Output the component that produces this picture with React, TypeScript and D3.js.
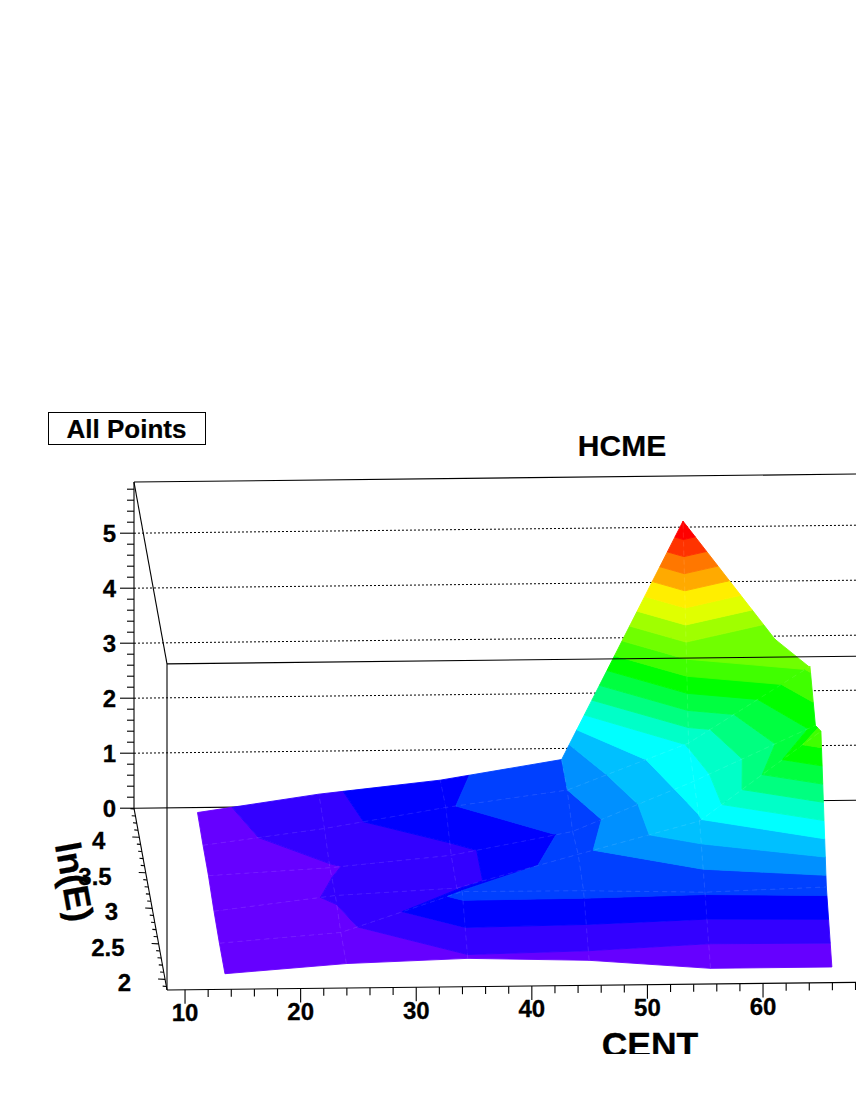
import React from "react";
import * as d3 from "d3";

// ---- data ----
const CENT = [13.7, 24.2, 34.7, 45.2, 55.7, 66.2];
const LN_E = [2.07, 2.5, 2.92, 3.35, 3.77, 4.2];
const Z_R0 = [0, 0.16, 0.23, 0.17, 0, 0];
const Z_R1 = [0, 0.17, 0.89, 0.88, 0.83, 0.9];
const Z_R2 = [0.04, 0.3, 0.41, 1.0, 1.58, 3.19];
const Z_R3 = [0.13, 0.25, 0.45, 0.86, 1.75, 2.74];
const Z_R4 = [0.14, 0.42, 0.78, 1.07, 1.9, 3.27];
const Z_R5 = [0.18, 0.49, 0.72, 1.07, 5.38, 2.52];
const Z_ROWS = [Z_R0, Z_R1, Z_R2, Z_R3, Z_R4, Z_R5];
const PALETTE = [
  "#6600ff", "#3300ff", "#0000ff", "#0040ff", "#0090ff",
  "#00c0ff", "#00ffff", "#00ffc8", "#00ff80", "#00ff40",
  "#00ff00", "#40ff00", "#70ff00", "#a0ff00", "#e0ff00",
  "#ffee00", "#ffaa00", "#ff7700", "#ff3300", "#ff0000",
];
const LEVEL_STEP = 0.268;
const Z_TICKS = [0, 1, 2, 3, 4, 5];
const CENT_TICKS = [10, 20, 30, 40, 50, 60];
const LNE_TICKS = [2, 2.5, 3, 3.5, 4];
const LNE_LABELS = ["2", "2.5", "3", "3.5", "4"];

// ---- projection of the ROOT-style oblique 3D view ----
const C0 = 8.44, C1 = 72, L0 = 1.85, L1 = 4.41, Z_TOP = 5.93;
const xOfCent = d3.scaleLinear().domain([C0, C1]).range([0, (C1 - C0) * 11.56]);
const yOfCent = d3.scaleLinear().domain([C0, C1]).range([0, -(C1 - C0) * 0.128]);
const xOfLn = d3.scaleLinear().domain([L0, L1]).range([0, -33]);
const yOfLn = d3.scaleLinear().domain([L0, L1]).range([0, -181.8]);
const yOfZ = d3.scaleLinear().domain([0, 1]).range([0, -55]);
type V = [number, number, number];
const project = (c: number, l: number, z: number): [number, number] => [
  167 + xOfCent(c) + xOfLn(l),
  990 + yOfCent(c) + yOfLn(l) + yOfZ(z),
];
const P = (p: [number, number]) => `${p[0].toFixed(2)},${p[1].toFixed(2)}`;

// Clip a closed polygon against a height level, walking the outline as the original does
function clip(poly: V[], level: number, keepAbove: boolean): V[] {
  const out: V[] = [];
  const inside = (v: V) => (keepAbove ? v[2] >= level : v[2] <= level);
  poly.forEach((a, i) => {
    const b = poly[(i + 1) % poly.length];
    const ia = inside(a), ib = inside(b);
    if (ia) out.push(a);
    if (ia !== ib) {
      const t = (level - a[2]) / (b[2] - a[2]);
      out.push([a[0] + t * (b[0] - a[0]), a[1] + t * (b[1] - a[1]), level]);
    }
  });
  return out;
}

function surfaceBands() {
  const res: { pts: string; fill: string }[] = [];
  for (let r = LN_E.length - 2; r >= 0; r--) {
    for (let c = 0; c < CENT.length - 1; c++) {
      const quad: V[] = [
        [CENT[c], LN_E[r], Z_ROWS[r][c]],
        [CENT[c + 1], LN_E[r], Z_ROWS[r][c + 1]],
        [CENT[c + 1], LN_E[r + 1], Z_ROWS[r + 1][c + 1]],
        [CENT[c], LN_E[r + 1], Z_ROWS[r + 1][c]],
      ];
      PALETTE.forEach((fill, k) => {
        let poly = quad;
        if (k > 0) poly = clip(poly, k * LEVEL_STEP, true);
        if (k < PALETTE.length - 1 && poly.length) poly = clip(poly, (k + 1) * LEVEL_STEP, false);
        if (poly.length > 2) res.push({ pts: poly.map((v) => P(project(v[0], v[1], v[2]))).join(" "), fill });
      });
    }
  }
  return res;
}

const FONT = "'Liberation Sans', Arial, Helvetica, sans-serif";
const Line = ({ a, b, w = 1.1, dash }: { a: [number, number]; b: [number, number]; w?: number; dash?: string }) => (
  <line x1={a[0]} y1={a[1]} x2={b[0]} y2={b[1]} stroke="#000" strokeWidth={w} strokeDasharray={dash} />
);

export default function App() {
  const zMinor = d3.range(0, 5.81, 0.2);
  const centMinor = d3.range(10, 72.01, 2);
  const lnMinor = d3.range(1.9, 4.41, 0.1);
  const isMajor = (v: number, list: number[]) => list.some((t) => Math.abs(t - v) < 1e-6);
  const bands = surfaceBands();
  const rowLine = d3.line();
  return (
    <svg width={856} height={1107} viewBox="0 0 856 1107"
      style={{ position: "absolute", left: 0, top: 0, display: "block", background: "#fff" }} fontFamily={FONT} fontWeight="bold">
      <defs>
        <clipPath id="axisTitleClip"><rect x={0} y={0} width={856} height={1054} /></clipPath>
      </defs>

      {/* back wall grid */}
      {Z_TICKS.filter((z) => z > 0).map((z) => (
        <Line key={z} a={project(C0, L1, z)} b={project(C1, L1, z)} dash="2 2" w={1} />
      ))}
      <Line a={project(C0, L1, 0)} b={project(C1, L1, 0)} />
      <Line a={project(C0, L1, Z_TOP)} b={project(C1, L1, Z_TOP)} />
      <Line a={project(C0, L1, 0)} b={project(C0, L1, Z_TOP)} />
      <Line a={project(C0, L1, Z_TOP)} b={project(C0, L0, Z_TOP)} />
      <Line a={project(C0, L0, 0)} b={project(C0, L0, Z_TOP)} />
      <Line a={project(C0, L1, 0)} b={project(C0, L0, 0)} />
      <Line a={project(C0, L0, 0)} b={project(C1, L0, 0)} />

      {/* surface */}
      <g>
        {bands.map((b, i) => (
          <polygon key={i} points={b.pts} fill={b.fill} stroke={b.fill} strokeWidth={0.9} strokeLinejoin="round" />
        ))}
      </g>
      {/* faint mesh seams of the surface, only on the interior grid lines */}
      <g fill="none" stroke="#fff" strokeOpacity={0.13} strokeWidth={0.8} strokeDasharray="5 4">
        {LN_E.slice(1, -1).map((l, i) => (
          <path key={l} d={rowLine(CENT.map((c, j) => project(c, l, Z_ROWS[i + 1][j]))) ?? ""} />
        ))}
        {CENT.slice(1, -1).map((c, j) => (
          <path key={c} d={rowLine(LN_E.map((l, i) => project(c, l, Z_ROWS[i][j + 1]))) ?? ""} />
        ))}
      </g>

      {/* front top edge runs over the surface */}
      <Line a={project(C0, L0, Z_TOP)} b={project(C1, L0, Z_TOP)} />

      {/* z axis */}
      {zMinor.map((z) => {
        const p = project(C0, L1, z);
        const len = isMajor(z, Z_TICKS) ? 14 : 7;
        return <Line key={z} a={[p[0] - len, p[1]]} b={p} />;
      })}
      {Z_TICKS.map((z) => {
        const p = project(C0, L1, z);
        return <text key={z} x={p[0] - 18} y={p[1] + 8.5} textAnchor="end" fontSize={24} stroke="#000" strokeWidth={0.3}>{z}</text>;
      })}

      {/* lnE axis */}
      {lnMinor.map((l) => {
        const p = project(C0, l, 0);
        const len = isMajor(l, LNE_TICKS) ? 7 : 3.7;
        return <Line key={l} a={[p[0] - len, p[1] - 0.3]} b={p} />;
      })}
      {LNE_TICKS.map((l, i) => {
        const p = project(C0, l, 0);
        return <text key={l} x={p[0] - 34} y={p[1] + 12} textAnchor="end" fontSize={24} stroke="#000" strokeWidth={0.3}>{LNE_LABELS[i]}</text>;
      })}
      <text transform="translate(62,884) rotate(79.7)" textAnchor="middle" fontSize={36} stroke="#000" strokeWidth={0.3}>ln(E)</text>

      {/* CENT axis */}
      {centMinor.map((c) => {
        const p = project(c, L0, 0);
        const len = isMajor(c, CENT_TICKS) ? 14 : 7.5;
        return <Line key={c} a={p} b={[p[0], p[1] + len]} />;
      })}
      {CENT_TICKS.map((c) => {
        const p = project(c, L0, 0);
        return <text key={c} x={p[0]} y={p[1] + 31.5} textAnchor="middle" fontSize={24} stroke="#000" strokeWidth={0.3}>{c}</text>;
      })}
      <g clipPath="url(#axisTitleClip)">
        <text x={650} y={1056.5} textAnchor="middle" fontSize={35.5} stroke="#000" strokeWidth={0.3}>CENT</text>
      </g>

      {/* title and stats box */}
      <text x={622} y={456} textAnchor="middle" fontSize={30} stroke="#000" strokeWidth={0.2}>HCME</text>
      <rect x={48.5} y={412.5} width={157} height={32} fill="#fff" stroke="#000" strokeWidth={1} />
      <text x={126.5} y={438} textAnchor="middle" fontSize={26} stroke="#000" strokeWidth={0.2}>All Points</text>
    </svg>
  );
}
